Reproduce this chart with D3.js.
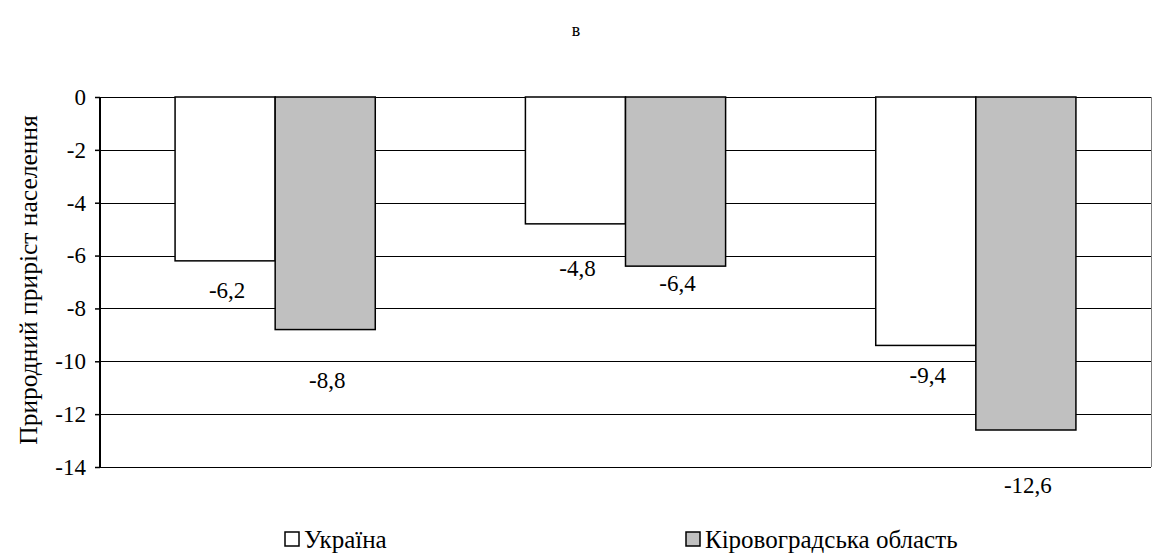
<!DOCTYPE html>
<html>
<head>
<meta charset="utf-8">
<script src="https://cdn.jsdelivr.net/npm/d3@7"></script>
<style>
  html, body { margin: 0; padding: 0; background: #fff; }
</style>
</head>
<body>
<svg id="chart" width="1156" height="554"></svg>
<script>
// Natural population growth: Ukraine vs Kirovohrad oblast
const categories = ["2000", "2005", "2010"];
const seriesNames = ["Україна", "Кіровоградська область"];
const ukraine = [-6.2, -4.8, -9.4];
const kirovohrad = [-8.8, -6.4, -12.6];
const yTicks = [0, -2, -4, -6, -8, -10, -12, -14];
const yTitle = "Природний приріст населення";
const caption = "в";

// Vertical nudge of each value label below its bar end (px), per series
const labelDy = [
  [37, 52, 38],
  [58, 25, 63]
];

const fills = ["#ffffff", "#c0c0c0"];
const values = [ukraine, kirovohrad];
const FONT = '"Liberation Serif"';

const svg = d3.select("#chart").style("font-family", FONT);
const m = { left: 100, right: 1151, top: 97, bottom: 467 };

const y = d3.scaleLinear().domain([0, -14]).range([m.top, m.bottom]);
const x0 = d3.scaleBand().domain(categories).range([m.left, m.right]).padding(0);
const x1 = d3.scaleBand().domain(seriesNames).range([0, x0.bandwidth()])
  .paddingInner(0).paddingOuter(0.75);

// Gridlines
svg.append("g").selectAll("line").data(yTicks).join("line")
  .attr("x1", m.left).attr("x2", m.right)
  .attr("y1", d => Math.round(y(d)) + 0.5).attr("y2", d => Math.round(y(d)) + 0.5)
  .attr("stroke", "#000").attr("stroke-width", 1);

// Right border of plot area
svg.append("line")
  .attr("x1", m.right + 0.5).attr("x2", m.right + 0.5)
  .attr("y1", m.top).attr("y2", m.bottom)
  .attr("stroke", "#808080").attr("stroke-width", 1);

// Bars
const groups = svg.append("g").selectAll("g").data(categories).join("g")
  .attr("transform", d => `translate(${x0(d)},0)`);

groups.each(function(cat, ci) {
  const g = d3.select(this);
  seriesNames.forEach((s, si) => {
    const v = values[si][ci];
    g.append("rect")
      .attr("x", x1(s))
      .attr("y", y(0))
      .attr("width", x1.bandwidth())
      .attr("height", y(v) - y(0))
      .attr("fill", fills[si])
      .attr("stroke", "#000")
      .attr("stroke-width", 1.5);
  });
});

// Value labels
groups.each(function(cat, ci) {
  const g = d3.select(this);
  seriesNames.forEach((s, si) => {
    const v = values[si][ci];
    g.append("text")
      .attr("x", x1(s) + x1.bandwidth() / 2 + 2)
      .attr("y", y(v) + labelDy[si][ci])
      .attr("text-anchor", "middle")
      .attr("font-size", 23)
      .style("font-family", FONT)
      .attr("fill", "#000")
      .text(d3.format(".1f")(v).replace(".", ",").replace("−", "-"));
  });
});

// Left axis
const yAxis = d3.axisLeft(y).tickValues(yTicks).tickSize(5).tickPadding(9)
  .tickFormat(d => String(d));
const ax = svg.append("g").attr("transform", `translate(${m.left},0)`).call(yAxis)
  .attr("font-family", null).attr("font-size", 23);
ax.select(".domain").attr("stroke", "#000").attr("stroke-width", 2)
  .attr("d", `M0,${m.top}V${m.bottom}`);
ax.selectAll(".tick line").attr("stroke", "#000").attr("stroke-width", 1.5);
ax.selectAll(".tick text")
  .style("font-family", FONT)
  .attr("fill", "#000");

// Axis title
svg.append("text")
  .attr("transform", `translate(37,${(m.top + m.bottom) / 2 - 2}) rotate(-90)`)
  .attr("text-anchor", "middle")
  .attr("font-size", 25.5)
  .style("font-family", FONT)
  .text(yTitle);

// Caption
svg.append("text")
  .attr("x", 576).attr("y", 36)
  .attr("text-anchor", "middle")
  .attr("font-size", 18)
  .style("font-family", FONT)
  .text(caption);

// Legend
const legendX = [285, 686];
const legend = svg.append("g").selectAll("g").data(seriesNames).join("g")
  .attr("transform", (d, i) => `translate(${legendX[i]},532)`);
legend.append("rect")
  .attr("width", 14).attr("height", 14)
  .attr("fill", (d, i) => fills[i])
  .attr("stroke", "#000").attr("stroke-width", 1.5);
legend.append("text")
  .attr("x", 19).attr("y", 16)
  .attr("font-size", 25)
  .style("font-family", FONT)
  .text(d => d);
</script>
</body>
</html>
